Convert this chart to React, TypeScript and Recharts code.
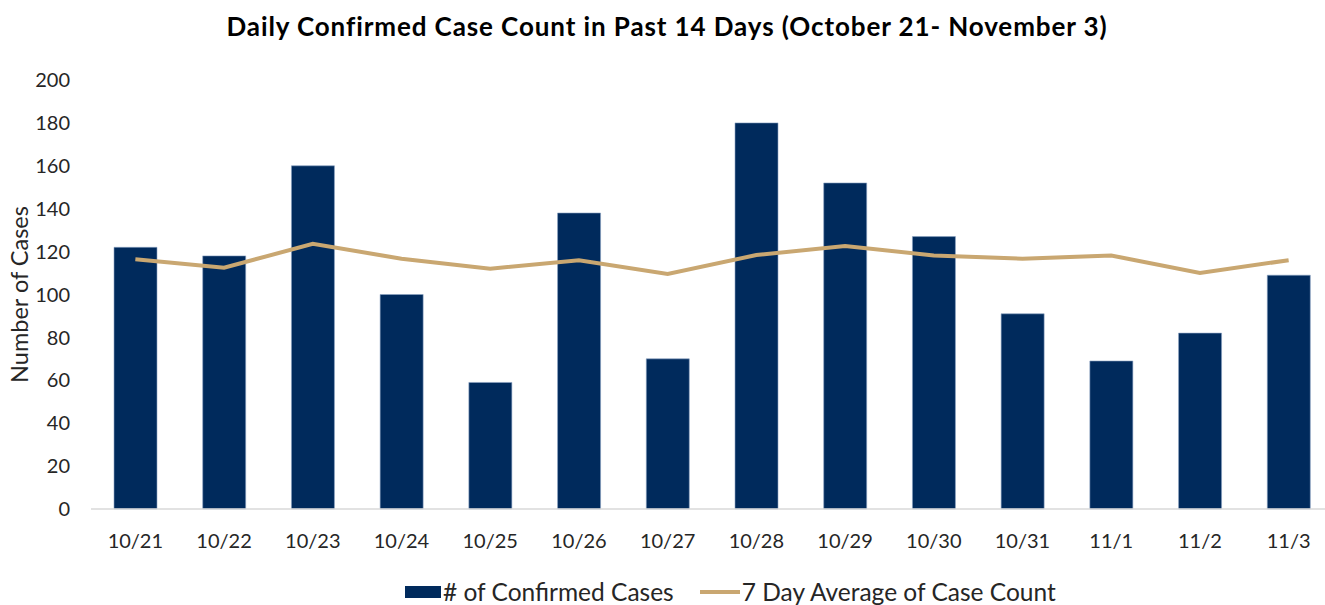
import { ComposedChart, Bar, Line, XAxis, YAxis, Legend } from 'recharts';

// ── Data ──────────────────────────────────────────────────────────────────
const DAYS = [
  '10/21', '10/22', '10/23', '10/24', '10/25', '10/26', '10/27',
  '10/28', '10/29', '10/30', '10/31', '11/1', '11/2', '11/3',
];
const CONFIRMED = [122, 118, 160, 100, 59, 138, 70, 180, 152, 127, 91, 69, 82, 109];
const AVG_7DAY = [
  116.4, 112.5, 123.6, 116.7, 112.0, 116.0, 109.6,
  118.4, 122.6, 118.2, 116.7, 118.2, 110.0, 116.0,
];
const Y_TICKS = [0, 20, 40, 60, 80, 100, 120, 140, 160, 180, 200];

const NAVY = '#002A5C';
const TAN = '#C9A771';
const FONT = 'Lato, "Open Sans", sans-serif';

const rows = DAYS.map((day, i) => ({ day, confirmed: CONFIRMED[i], avg: AVG_7DAY[i] }));

// legend drawn by hand so it can sit where the original one sits
function LegendRow({ payload }: any) {
  return (
    <div style={{ display: 'flex', alignItems: 'center', marginLeft: 405, fontFamily: FONT, fontSize: 24.5, color: '#262626' }}>
      {(payload ?? []).map((p: any) => (
        <div key={p.value} style={{ display: 'flex', alignItems: 'center', marginRight: 26 }}>
          {p.type === 'rect' ? (
            <span style={{ display: 'inline-block', width: 36, height: 12, background: p.color, marginRight: 2 }} />
          ) : (
            <span style={{ display: 'inline-block', width: 40, height: 4, background: p.color, marginRight: 2 }} />
          )}
          <span>{p.value}</span>
        </div>
      ))}
    </div>
  );
}

export default function App() {
  return (
    <div style={{ position: 'absolute', left: 0, top: 0, width: 1325, height: 605, overflow: 'hidden', background: '#fff' }}>
      <div
        style={{
          position: 'absolute', left: 0, top: 10, width: 1334, textAlign: 'center',
          fontFamily: FONT, fontWeight: 700, fontSize: 26, letterSpacing: 0.9, color: '#000',
        }}
      >
        Daily Confirmed Case Count in Past 14 Days (October 21- November 3)
      </div>
      <ComposedChart
        width={1343}
        height={605}
        data={rows}
        margin={{ top: 80, right: 10, left: 0, bottom: 37 }}
        style={{ fontFamily: FONT }}
      >
        <XAxis
          dataKey="day"
          tickLine={false}
          axisLine={{ stroke: '#D9D9D9', strokeWidth: 1.5 }}
          tick={{ fontSize: 20, fill: '#262626' }}
          tickMargin={19}
          interval={0}
        />
        <YAxis
          domain={[0, 200]}
          ticks={Y_TICKS}
          width={91}
          axisLine={false}
          tickLine={false}
          tick={{ fontSize: 20, fill: '#262626' }}
          tickMargin={15}
          label={{
            value: 'Number of Cases', angle: -90, position: 'insideLeft', offset: 20,
            style: { textAnchor: 'middle', fontSize: 23.5, fill: '#262626' },
          }}
        />
        <Legend
          verticalAlign="bottom"
          wrapperStyle={{ position: 'absolute', left: 0, top: 577, width: 1325 }}
          content={<LegendRow />}
        />
        <Bar
          dataKey="confirmed"
          name="# of Confirmed Cases"
          fill={NAVY}
          stroke="#8CA2C2"
          strokeWidth={0.6}
          barSize={43}
          legendType="rect"
          isAnimationActive={false}
        />
        <Line
          dataKey="avg"
          name="7 Day Average of Case Count"
          type="linear"
          stroke={TAN}
          strokeWidth={4}
          dot={false}
          activeDot={false}
          legendType="line"
          isAnimationActive={false}
        />
      </ComposedChart>
    </div>
  );
}
